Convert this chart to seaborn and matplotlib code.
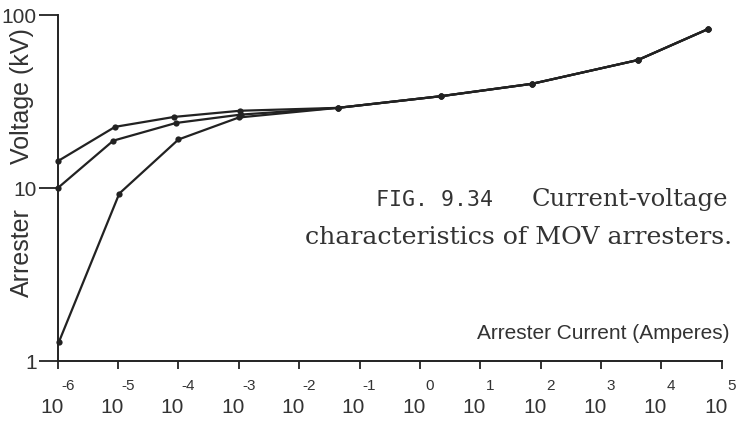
import numpy as np
import pandas as pd
import matplotlib
matplotlib.use('Agg')
import matplotlib.pyplot as plt
import matplotlib.transforms as mtransforms
import seaborn as sns

# ── DATA ───────────────────────────────────────────────
# x is log10 of the arrester current in amperes, y is voltage in kV
shared_x = [-1.36, 0.35, 1.86, 3.61, 4.77]
shared_kv = [29.1, 34.0, 40.1, 55.0, 83.0]

curve_a_x = [-6.0, -5.05, -4.07, -2.98]
curve_a_kv = [14.3, 22.6, 25.8, 28.0]

curve_b_x = [-6.0, -5.08, -4.04, -2.97]
curve_b_kv = [10.0, 18.8, 23.8, 26.6]

curve_c_x = [-5.98, -4.98, -4.0, -3.0]
curve_c_kv = [1.29, 9.3, 19.1, 25.6]

x_exponents = [-6, -5, -4, -3, -2, -1, 0, 1, 2, 3, 4, 5]
y_ticks = [1, 10, 100]
y_ticklabels = ['1', '10', '100']

frames = []
for name, xs, ys in [('A', curve_a_x, curve_a_kv),
                     ('B', curve_b_x, curve_b_kv),
                     ('C', curve_c_x, curve_c_kv)]:
    frames.append(pd.DataFrame({'curve': name,
                                'log_i': xs + shared_x,
                                'kv': ys + shared_kv}))
df = pd.concat(frames, ignore_index=True)

# ── STYLE ──────────────────────────────────────────────
sns.set_style('ticks')
plt.rcParams['font.family'] = ['Liberation Sans', 'DejaVu Sans']
ink = '#222222'
txt = '#333333'

fig = plt.figure(figsize=(7.41, 4.21), dpi=100)
ax = fig.add_axes([0.0779, 0.1425, 0.8961, 0.8215])

for name, grp in df.groupby('curve'):
    sns.lineplot(data=grp, x='log_i', y='kv', ax=ax, sort=False,
                 estimator=None, color=ink, linewidth=1.6,
                 marker='o', markersize=4.5, markeredgewidth=0,
                 clip_on=False, legend=False)

ax.set_yscale('log')
ax.set_xlim(-6, 5)
ax.set_ylim(1, 100)

sns.despine(ax=ax)
for side in ['left', 'bottom']:
    ax.spines[side].set_linewidth(1.4)
    ax.spines[side].set_color(ink)

ax.set_yticks(y_ticks)
ax.set_yticklabels(y_ticklabels, fontsize=15, color=txt)
ax.yaxis.set_minor_locator(matplotlib.ticker.NullLocator())
ax.tick_params(axis='y', length=14, width=1.3, pad=1, color=ink)

ax.set_xticks(x_exponents)
ax.set_xticklabels([])
ax.tick_params(axis='x', length=6, width=1.3, color=ink)

# 10^n tick labels drawn as two pieces, like the original
trans = mtransforms.blended_transform_factory(ax.transData, ax.transAxes)
off_exp = mtransforms.offset_copy(trans, fig=fig, x=10, y=0, units='dots')
off_ten = mtransforms.offset_copy(trans, fig=fig, x=-6, y=0, units='dots')
for e in x_exponents:
    ax.text(e, -0.073, str(e), transform=off_exp, ha='center', va='center',
            fontsize=11, color=txt)
    ax.text(e, -0.135, '10', transform=off_ten, ha='center', va='center',
            fontsize=15, color=txt)

ax.set_xlabel('')
ax.set_ylabel('')
# y label is split around the "10" tick label, as in the original
fig.text(0.030, 0.772, 'Voltage (kV)', rotation=90, ha='center',
         va='center', fontsize=18, color=txt)
fig.text(0.030, 0.401, 'Arrester', rotation=90, ha='center',
         va='center', fontsize=18, color=txt)

fig.text(0.984, 0.207, 'Arrester Current (Amperes)', ha='right',
         va='center', fontsize=15, color=txt)

# ── CAPTION ────────────────────────────────────────────
fig.text(0.982, 0.525, 'Current-voltage', ha='right',
         va='center', fontsize=17.5, family='DejaVu Serif', color=txt)
fig.text(0.665, 0.525, 'FIG. 9.34', ha='right',
         va='center', fontsize=15.5, family='DejaVu Sans Mono', color=txt)
fig.text(0.988, 0.437, 'characteristics of MOV arresters.', ha='right',
         va='center', fontsize=18.2, family='DejaVu Serif', color=txt)

fig.savefig('out.png', dpi=100)
